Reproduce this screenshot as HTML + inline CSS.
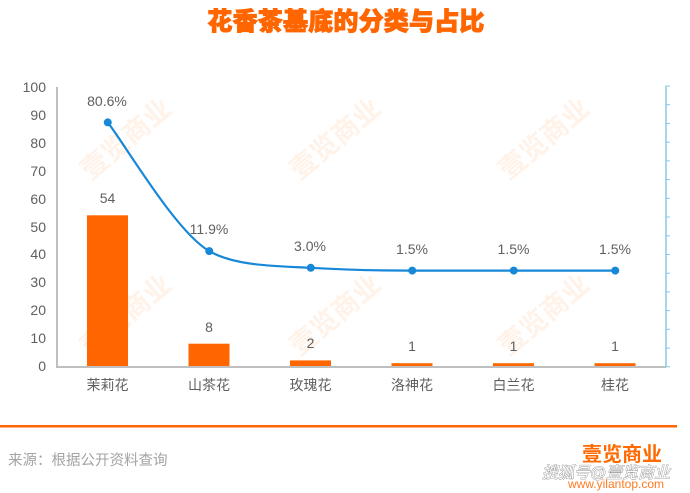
<!DOCTYPE html>
<html>
<head>
<meta charset="utf-8">
<style>
html,body{margin:0;padding:0;background:#fff;}
body{width:690px;height:493px;overflow:hidden;}
svg{display:block;}
.t{font-family:"Liberation Sans","Noto Sans CJK SC",sans-serif;fill:#5f5f5f;font-size:14px;}
.c{font-family:"Liberation Sans","Noto Sans CJK SC",sans-serif;fill:#5f5f5f;font-size:14px;}
.wm{font-family:"Liberation Sans","Noto Sans CJK SC",sans-serif;font-size:27px;fill:#ff6a00;fill-opacity:0.09;font-weight:700;}
</style>
</head>
<body>
<svg width="690" height="493" viewBox="0 0 690 493" xmlns="http://www.w3.org/2000/svg">
  <rect width="690" height="493" fill="#fff"/>
  <!-- title -->
  <text x="346" y="30" text-anchor="middle" font-family="'Liberation Sans','Noto Sans CJK SC',sans-serif" font-size="25" font-weight="900" fill="#ff6600" stroke="#ff6600" stroke-width="0.9" letter-spacing="0.2">花香茶基底的分类与占比</text>

  <!-- watermarks -->
  <g class="wm" text-anchor="middle">
    <text transform="translate(132,146) rotate(-40)">壹览商业</text>
    <text transform="translate(341,146) rotate(-40)">壹览商业</text>
    <text transform="translate(550,146) rotate(-40)">壹览商业</text>
    <text transform="translate(132,322) rotate(-40)">壹览商业</text>
    <text transform="translate(341,322) rotate(-40)">壹览商业</text>
    <text transform="translate(550,322) rotate(-40)">壹览商业</text>
  </g>

  <!-- left y tick labels -->
  <g class="t" text-anchor="end">
    <text x="46" y="92">100</text>
    <text x="46" y="120">90</text>
    <text x="46" y="148">80</text>
    <text x="46" y="176">70</text>
    <text x="46" y="204">60</text>
    <text x="46" y="232">50</text>
    <text x="46" y="259">40</text>
    <text x="46" y="287">30</text>
    <text x="46" y="315">20</text>
    <text x="46" y="343">10</text>
    <text x="46" y="371">0</text>
  </g>

  <!-- bars -->
  <g fill="#ff6600">
    <rect x="87" y="215.3" width="41" height="151.7"/>
    <rect x="188.5" y="343.7" width="41" height="23.3"/>
    <rect x="290" y="360.4" width="41" height="6.6"/>
    <rect x="391.5" y="363.2" width="41" height="3.8"/>
    <rect x="493" y="363.2" width="41" height="3.8"/>
    <rect x="594.5" y="363.2" width="41" height="3.8"/>
  </g>

  <!-- axes -->
  <line x1="57" y1="87" x2="57" y2="368" stroke="#bfbfbf" stroke-width="2"/>
  <line x1="56" y1="367" x2="666" y2="367" stroke="#bfbfbf" stroke-width="2"/>
  <line x1="666" y1="86" x2="666" y2="367" stroke="#86c9e6" stroke-width="1.5"/>
  <g stroke="#86c9e6" stroke-width="1">
    <line x1="666" y1="86" x2="670" y2="86"/>
    <line x1="666" y1="104.7" x2="670" y2="104.7"/>
    <line x1="666" y1="123.4" x2="670" y2="123.4"/>
    <line x1="666" y1="142.2" x2="670" y2="142.2"/>
    <line x1="666" y1="160.9" x2="670" y2="160.9"/>
    <line x1="666" y1="179.6" x2="670" y2="179.6"/>
    <line x1="666" y1="198.3" x2="670" y2="198.3"/>
    <line x1="666" y1="217" x2="670" y2="217"/>
    <line x1="666" y1="235.8" x2="670" y2="235.8"/>
    <line x1="666" y1="254.5" x2="670" y2="254.5"/>
    <line x1="666" y1="273.2" x2="670" y2="273.2"/>
    <line x1="666" y1="291.9" x2="670" y2="291.9"/>
    <line x1="666" y1="310.6" x2="670" y2="310.6"/>
    <line x1="666" y1="329.3" x2="670" y2="329.3"/>
    <line x1="666" y1="348.1" x2="670" y2="348.1"/>
    <line x1="666" y1="366.8" x2="670" y2="366.8"/>
  </g>

  <!-- bar labels -->
  <g class="t" text-anchor="middle">
    <text x="107.5" y="203">54</text>
    <text x="209" y="332">8</text>
    <text x="310.5" y="348">2</text>
    <text x="412" y="351">1</text>
    <text x="513.5" y="351">1</text>
    <text x="615" y="351">1</text>
  </g>

  <!-- line series -->
  <path d="M107.75,122.4 C124.67,143.85 175.42,231.5 209.25,251.1 C235,266 275,266 310.75,267.8 C344.58,269.8 378.42,270.6 412.25,270.6 L615.25,270.6" fill="none" stroke="#1787d8" stroke-width="2.2"/>
  <g fill="#1787d8">
    <circle cx="107.75" cy="122.4" r="4"/>
    <circle cx="209.25" cy="251.1" r="4"/>
    <circle cx="310.75" cy="267.8" r="4"/>
    <circle cx="412.25" cy="270.6" r="4"/>
    <circle cx="513.75" cy="270.6" r="4"/>
    <circle cx="615.25" cy="270.6" r="4"/>
  </g>
  <g class="t" text-anchor="middle">
    <text x="107" y="106">80.6%</text>
    <text x="209" y="234">11.9%</text>
    <text x="310" y="251">3.0%</text>
    <text x="412" y="254">1.5%</text>
    <text x="513.5" y="254">1.5%</text>
    <text x="615" y="254">1.5%</text>
  </g>

  <!-- category labels -->
  <g class="c" text-anchor="middle">
    <text x="107.5" y="390">茉莉花</text>
    <text x="209" y="390">山茶花</text>
    <text x="310.5" y="390">玫瑰花</text>
    <text x="412" y="390">洛神花</text>
    <text x="513.5" y="390">白兰花</text>
    <text x="615" y="390">桂花</text>
  </g>

  <!-- footer -->
  <rect x="0" y="425" width="677" height="2.5" fill="#ff6600"/>
  <text x="8" y="465" font-family="'Liberation Sans','Noto Sans CJK SC',sans-serif" font-size="14.5" fill="#a3a3a3">来源：根据公开资料查询</text>

  <text x="622" y="461" text-anchor="middle" font-family="'Liberation Sans','Noto Sans CJK SC',sans-serif" font-size="20" font-weight="700" fill="#ff6a00">壹览商业</text>
  <text x="616" y="488" text-anchor="middle" font-family="'Liberation Sans',sans-serif" font-size="12" fill="#ff7a20">www.yilantop.com</text>
  <text x="606" y="478" text-anchor="middle" font-family="'Liberation Sans','Noto Sans CJK SC',sans-serif" font-size="16" font-style="italic" fill="#ffffff" stroke="#8a8a8a" stroke-width="0.8" paint-order="stroke">搜狐号@壹览商业</text>
</svg>
</body>
</html>
